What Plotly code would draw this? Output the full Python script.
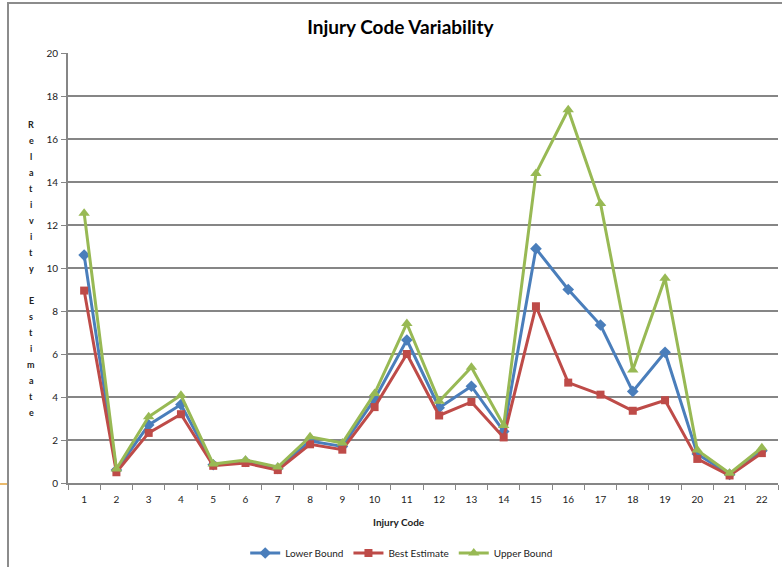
import plotly.graph_objects as go

# Data
codes = [str(i) for i in range(1, 23)]
lower_bound = [10.6, 0.6, 2.7, 3.65, 0.85, 1.0, 0.68, 1.95, 1.7, 3.9, 6.65,
               3.5, 4.5, 2.4, 10.9, 9.0, 7.35, 4.26, 6.08, 1.35, 0.4, 1.5]
best_estimate = [8.95, 0.5, 2.33, 3.2, 0.8, 0.93, 0.6, 1.8, 1.55, 3.53, 6.0,
                 3.14, 3.77, 2.12, 8.22, 4.67, 4.11, 3.36, 3.85, 1.12, 0.35, 1.39]
upper_bound = [12.55, 0.65, 3.08, 4.08, 0.88, 1.07, 0.74, 2.15, 1.86, 4.16, 7.42,
               3.8, 5.38, 2.67, 14.4, 17.36, 13.0, 5.26, 9.52, 1.53, 0.45, 1.64]

BLUE = "#4A7EBB"
RED = "#BE4B48"
GREEN = "#98B954"
GRID = "#868686"
FONT = "Lato, 'Open Sans', sans-serif"

fig = go.Figure()

series = [
    ("Lower Bound", lower_bound, BLUE, "diamond", 9),
    ("Best Estimate", best_estimate, RED, "square", 8),
    ("Upper Bound", upper_bound, GREEN, "triangle-up", 10),
]
for name, vals, color, symbol, size in series:
    fig.add_trace(
        go.Scatter(
            x=codes,
            y=vals,
            name=name,
            mode="lines+markers",
            line=dict(color=color, width=3),
            marker=dict(symbol=symbol, size=size, color=color),
        )
    )

fig.update_layout(
    width=782,
    height=567,
    paper_bgcolor="white",
    plot_bgcolor="white",
    font=dict(family=FONT, color="#222222", size=10),
    margin=dict(l=68, r=4, t=53, b=84, autoexpand=False),
    title=dict(
        text="<b>Injury Code Variability</b>",
        x=0.512,
        xanchor="center",
        y=1 - 27 / 567,
        yanchor="middle",
        font=dict(size=19, color="black", family=FONT),
    ),
    xaxis=dict(
        type="category",
        range=[-0.5, 21.5],
        tickson="boundaries",
        ticks="outside",
        ticklen=5,
        tickcolor=GRID,
        showline=True,
        linecolor=GRID,
        linewidth=2,
        showgrid=False,
        automargin=False,
        ticklabelstandoff=6,
        tickfont=dict(size=10, color="#222222"),
    ),
    yaxis=dict(
        range=[0, 20],
        dtick=2,
        ticks="outside",
        ticklen=5,
        tickcolor=GRID,
        showline=True,
        linecolor=GRID,
        linewidth=2,
        showgrid=True,
        gridcolor=GRID,
        gridwidth=2,
        zeroline=False,
        automargin=False,
        ticklabelstandoff=1,
        tickfont=dict(size=10, color="#222222"),
    ),
    showlegend=True,
    legend=dict(
        orientation="h",
        x=0.47,
        xanchor="center",
        y=-70 / 430,
        yanchor="middle",
        font=dict(size=10, color="#222222"),
        itemwidth=30,
    ),
)

# x-axis title
fig.add_annotation(
    text="<b>Injury Code</b>",
    xref="paper", yref="paper",
    x=(399 - 68) / 710, y=-(522 - 483) / 430,
    xanchor="center", yanchor="middle",
    showarrow=False,
    font=dict(size=10, color="#222222", family=FONT),
)

# stacked y-axis title letters
ytitle = "Relativity Estimate"
for i, ch in enumerate(ytitle):
    if ch == " ":
        continue
    ypix = 124 + i * 16.05
    fig.add_annotation(
        text="<b>%s</b>" % ch,
        xref="paper", yref="paper",
        x=(31 - 68) / 710, y=(483 - ypix) / 430,
        xanchor="center", yanchor="middle",
        showarrow=False,
        font=dict(size=9, color="#222222", family=FONT),
    )

# chart area border
fig.add_shape(
    type="rect", xref="paper", yref="paper",
    x0=(8 - 68) / 710, x1=(800 - 68) / 710,
    y0=(483 - 600) / 430, y1=(483 - 3) / 430,
    line=dict(color="#8C8C8C", width=2),
    fillcolor="rgba(0,0,0,0)",
    layer="below",
)
fig.add_shape(
    type="line", xref="paper", yref="paper",
    x0=(0 - 68) / 710, x1=(7 - 68) / 710,
    y0=(483 - 484) / 430, y1=(483 - 484) / 430,
    line=dict(color="#E3A33B", width=1.5),
)

fig.write_html(
    "out.html",
    config={"displayModeBar": False},
    post_script="document.body.style.margin='0';document.body.style.overflow='hidden';",
)
